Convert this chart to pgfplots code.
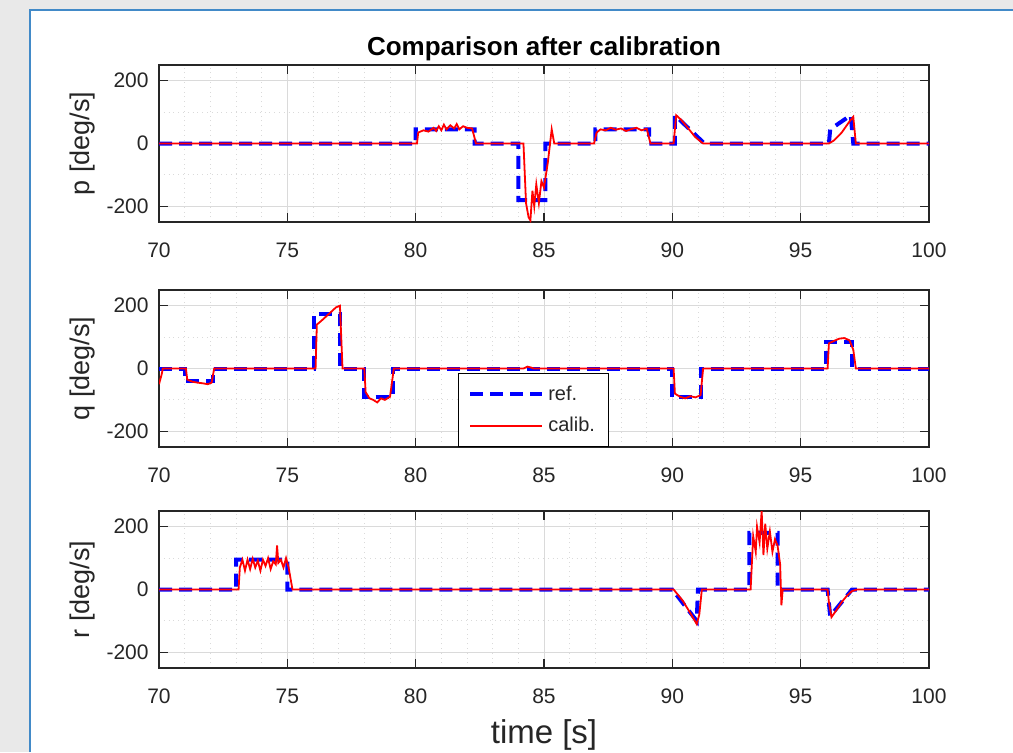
\documentclass[border=0pt]{standalone}
\usepackage{pgfplots}
\pgfplotsset{compat=1.18}
\usepackage{pgfplotstable}
\usepackage{fontspec}
\setmainfont{Liberation Sans}
\definecolor{axgray}{RGB}{38,38,38}
\definecolor{bggray}{RGB}{233,233,233}
\definecolor{panelblue}{RGB}{66,138,200}
\definecolor{gridgray}{RGB}{218,218,218}

\pgfplotstableread{
t v
70 0
80 0
80 45
82.3 45
82.3 0
84 0
84 -180
85.05 -180
85.05 0
87 0
87 45
89.1 45
89.1 0
90.1 0
90.1 90
91.25 0
96.1 0
96.15 45
96.95 90
97.05 0
100 0
}\pref
\pgfplotstableread{
t v
70 0
80.05 0
80.1 35
80.3 42
80.5 38
80.7 50
80.8 40
80.9 55
81.0 42
81.1 60
81.2 45
81.35 58
81.5 48
81.6 62
81.7 45
81.85 55
82.0 50
82.2 48
82.35 0
84.2 0
84.3 -190
84.4 -235
84.47 -245
84.55 -150
84.62 -200
84.7 -130
84.8 -190
84.9 -120
85.0 -140
85.15 -60
85.3 45
85.4 0
86.95 0
87.05 35
87.2 45
87.4 42
87.6 50
87.8 44
88.0 48
88.2 40
88.4 46
88.6 50
88.8 42
89.0 47
89.15 0
90.05 0
90.15 90
90.35 75
90.6 50
90.9 20
91.2 0
96.1 0
96.3 10
96.6 35
96.9 70
97.05 85
97.15 0
100 0
}\pcal
\pgfplotstableread{
t v
70 0
71 0
71 -40
72.1 -40
72.1 0
76.05 0
76.05 175
77.05 175
77.05 0
78 0
78 -90
79.1 -90
79.1 0
90 0
90 -90
91.1 -90
91.1 0
96 0
96 85
97.0 85
97.0 0
100 0
}\qref
\pgfplotstableread{
t v
70 -50
70.1 -20
70.15 0
71.05 0
71.1 -35
71.3 -42
71.5 -45
71.7 -47
71.9 -50
72.05 -45
72.15 0
76.1 0
76.15 140
76.3 150
76.5 165
76.7 180
76.9 195
77.05 200
77.15 0
78.0 0
78.05 -75
78.2 -95
78.35 -100
78.5 -108
78.65 -95
78.8 -100
79.0 -90
79.15 0
84.2 0
84.35 6
84.5 3
84.6 0
90.05 0
90.1 -80
90.3 -90
90.5 -95
90.7 -88
90.9 -92
91.1 -85
91.2 0
96.05 0
96.1 80
96.3 88
96.5 95
96.7 97
96.9 90
97.05 60
97.15 0
100 0
}\qcal
\pgfplotstableread{
t v
70 0
73 0
73 95
75 95
75 0
90 0
90.95 -100
91.0 0
93 0
93 180
94.1 180
94.1 0
96.05 0
96.15 -85
97.0 0
100 0
}\rref
\pgfplotstableread{
t v
70 0
73.1 0
73.15 70
73.25 95
73.35 60
73.45 95
73.55 65
73.65 98
73.75 70
73.85 92
73.95 60
74.05 95
74.15 75
74.25 100
74.35 65
74.45 90
74.55 80
74.6 140
74.65 85
74.75 95
74.85 70
74.95 100
75.05 70
75.2 0
90.05 0
90.4 -35
90.7 -75
90.95 -110
91.05 -80
91.15 0
93.05 0
93.15 170
93.25 120
93.3 200
93.4 150
93.48 250
93.55 110
93.62 210
93.7 130
93.8 185
93.9 120
94.0 160
94.1 140
94.2 80
94.25 -50
94.3 0
96.05 0
96.1 -40
96.2 -88
96.4 -65
96.6 -40
96.8 -20
97.0 -5
97.2 0
100 0
}\rcal

\pgfplotsset{
  myax/.style={
    scale only axis,
    width=385pt, height=78.5pt,
    anchor=north west,
    xmin=70, xmax=100, ymin=-250, ymax=250,
    xtick={70,75,...,100}, ytick={-200,0,200},
    minor x tick num=4, minor y tick num=1,
    grid=both,
    major grid style={gridgray, line width=0.4pt},
    minor grid style={gridgray, dotted, line width=0.5pt},
    tick align=inside,
    major tick length=4.5pt, minor tick length=0pt,
    axis line style={axgray, line width=0.6pt},
    every tick/.style={axgray, line width=0.6pt},
    /pgf/number format/assume math mode=true,
    tick label style={font=\fontsize{10.5}{12}\selectfont, text=axgray, inner sep=0pt},
    xticklabel style={anchor=base, yshift=-17.5pt},
    yticklabel style={anchor=east, xshift=-5pt},
    ylabel style={at={(axis description cs:-0.0987,0.5)}, anchor=center, rotate=0, font=\fontsize{13.5}{15}\selectfont, text=axgray},
    refline/.style={blue, line width=2pt, dash pattern=on 6.5pt off 3.5pt},
    calline/.style={red, line width=0.9pt},
  }
}

\begin{document}
\begin{tikzpicture}
\path[use as bounding box] (0,0) rectangle (506.5pt,-376pt);
\fill[bggray] (0,0) rectangle (506.5pt,-376pt);
\fill[white] (15pt,-5pt) rectangle (506.5pt,-376pt);
\draw[panelblue, line width=1pt] (15pt,-376pt) -- (15pt,-5pt) -- (506.5pt,-5pt);

\begin{axis}[myax, at={(79.5pt,-32.5pt)},
  ylabel={p [deg/s]},
  title={Comparison after calibration},
  every axis title shift=0pt,
  title style={at={(axis description cs:0.5,1)}, anchor=base, yshift=5pt, font=\bfseries\fontsize{13}{15}\selectfont},
]
\addplot[refline] table[x=t,y=v] {\pref};
\addplot[calline] table[x=t,y=v] {\pcal};
\end{axis}

\begin{axis}[myax, at={(79.5pt,-145pt)},
  ylabel={q [deg/s]},
  legend style={at={(axis description cs:0.388,0.471)}, anchor=north west, draw=black, line width=0.5pt,
    font=\fontsize{10}{12}\selectfont, text=axgray, inner xsep=5pt, inner ysep=4pt, row sep=3pt, fill=white},
  legend cell align=left,
  legend image code/.code={\draw[#1] (0pt,0pt) -- (36pt,0pt);},
]
\addplot[refline] table[x=t,y=v] {\qref};
\addlegendentry{ref.}
\addplot[calline] table[x=t,y=v] {\qcal};
\addlegendentry{calib.}
\end{axis}

\begin{axis}[myax, at={(79.5pt,-255.5pt)},
  ylabel={r [deg/s]},
  xlabel={time [s]},
  xlabel style={at={(axis description cs:0.5,0)}, anchor=base, yshift=-37.5pt, font=\fontsize{16.5}{18}\selectfont, text=axgray},
]
\addplot[refline] table[x=t,y=v] {\rref};
\addplot[calline] table[x=t,y=v] {\rcal};
\end{axis}
\end{tikzpicture}
\end{document}
